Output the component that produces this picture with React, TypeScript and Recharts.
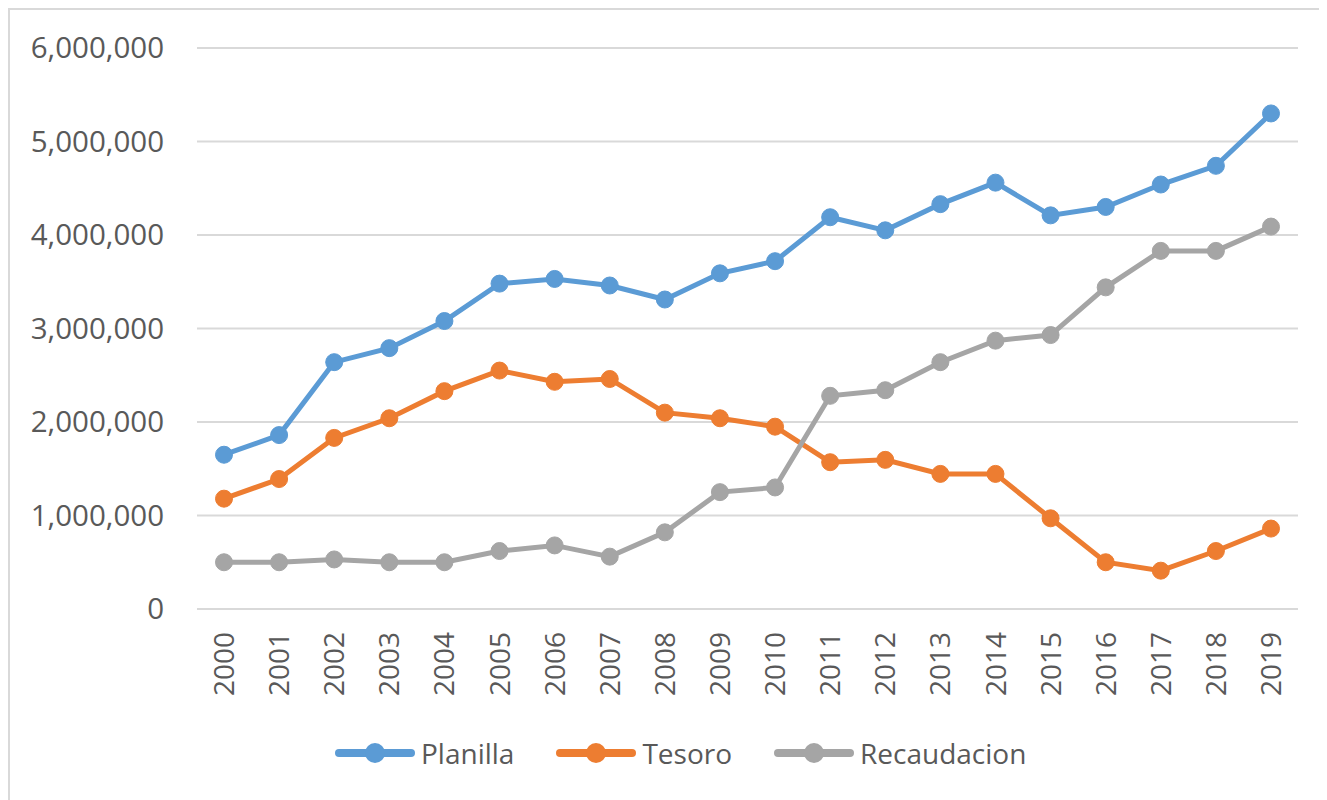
import { LineChart, Line, XAxis, YAxis, CartesianGrid, Legend } from "recharts";

const years = [
  "2000", "2001", "2002", "2003", "2004", "2005", "2006", "2007", "2008", "2009",
  "2010", "2011", "2012", "2013", "2014", "2015", "2016", "2017", "2018", "2019",
];

const planilla = [
  1650000, 1860000, 2640000, 2790000, 3080000, 3480000, 3530000, 3460000, 3310000, 3590000,
  3720000, 4190000, 4050000, 4330000, 4560000, 4210000, 4300000, 4540000, 4740000, 5300000,
];

const tesoro = [
  1180000, 1390000, 1830000, 2040000, 2330000, 2550000, 2430000, 2460000, 2100000, 2040000,
  1950000, 1570000, 1595000, 1445000, 1445000, 970000, 500000, 410000, 620000, 860000,
];

const recaudacion = [
  500000, 500000, 530000, 500000, 500000, 620000, 680000, 560000, 820000, 1250000,
  1300000, 2280000, 2340000, 2640000, 2870000, 2930000, 3440000, 3830000, 3830000, 4090000,
];

const yTicks = [0, 1000000, 2000000, 3000000, 4000000, 5000000, 6000000];

const seriesList = [
  { key: "Planilla", color: "#5B9BD5" },
  { key: "Tesoro", color: "#ED7D31" },
  { key: "Recaudacion", color: "#A5A5A5" },
];

const data = years.map((year, i) => ({
  name: year,
  Planilla: planilla[i],
  Tesoro: tesoro[i],
  Recaudacion: recaudacion[i],
}));

const FONT = "'Open Sans', sans-serif";
const TEXT = "#595959";

const XTick = ({ x, y, payload }: any) => (
  <text
    x={x}
    y={y}
    transform={`rotate(-90 ${x} ${y})`}
    textAnchor="end"
    dy="0.36em"
    fill={TEXT}
    fontSize={28}
    fontFamily={FONT}
  >
    {payload.value}
  </text>
);

const LegendContent = () => (
  <div
    style={{
      display: "flex",
      alignItems: "center",
      height: 40,
      paddingLeft: 325,
      fontFamily: FONT,
      fontSize: 28,
      color: TEXT,
    }}
  >
    {seriesList.map((s) => (
      <div key={s.key} style={{ display: "flex", alignItems: "center", marginRight: 42 }}>
        <svg width={80} height={24} style={{ marginRight: 6 }}>
          <line x1={4} y1={12} x2={76} y2={12} stroke={s.color} strokeWidth={8} strokeLinecap="round" />
          <circle cx={40} cy={12} r={10} fill={s.color} />
        </svg>
        <span>{s.key}</span>
      </div>
    ))}
  </div>
);

export default function App() {
  return (
    <div
      style={{
        width: 1319,
        height: 792,
        borderLeft: "2px solid #d9d9d9",
        borderTop: "2px solid #d9d9d9",
        boxSizing: "border-box",
        background: "#fff",
        fontFamily: FONT,
      }}
    >
      <LineChart
        width={1317}
        height={790}
        data={data}
        margin={{ top: 38, right: 29, left: 0, bottom: 27 }}
      >
        <CartesianGrid vertical={false} stroke="#d9d9d9" strokeWidth={2} />
        <XAxis
          dataKey="name"
          axisLine={false}
          tickLine={false}
          tickSize={0}
          tickMargin={23}
          height={124}
          interval={0}
          padding={{ left: 27, right: 27 }}
          tick={<XTick />}
        />
        <YAxis
          domain={[0, 6000000]}
          ticks={yTicks}
          width={187}
          axisLine={false}
          tickLine={false}
          tickSize={0}
          tickMargin={33}
          tickFormatter={(v: number) => v.toLocaleString("en-US")}
          tick={{ fill: TEXT, fontSize: 29.5, fontFamily: FONT }}
        />
        <Legend
          verticalAlign="bottom"
          height={40}
          content={<LegendContent />}
          wrapperStyle={{ left: 0, width: 1317 }}
        />
        {seriesList.map((s) => (
          <Line
            key={s.key}
            dataKey={s.key}
            type="linear"
            stroke={s.color}
            strokeWidth={5}
            dot={{ r: 8.5, fill: s.color, stroke: s.color, strokeWidth: 1 }}
            activeDot={false}
            isAnimationActive={false}
          />
        ))}
      </LineChart>
    </div>
  );
}
